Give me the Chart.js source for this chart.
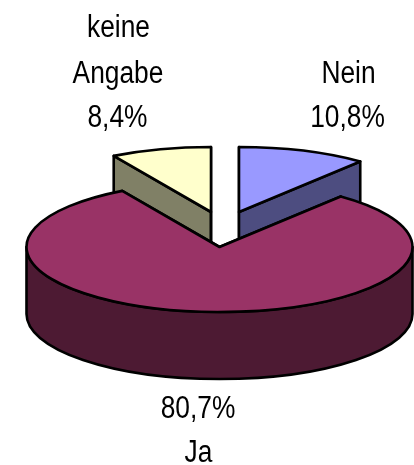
<!DOCTYPE html>
<html><head><meta charset="utf-8">
<style>html,body{margin:0;padding:0;background:#fff}#wrap{width:414px;height:465px}canvas{display:block}</style>
<script src="https://cdn.jsdelivr.net/npm/chart.js@4/dist/chart.umd.min.js"></script>
</head><body><div id="wrap"><canvas id="c" width="414" height="465"></canvas></div>
<script>
const categories = ['Nein', 'Ja', 'keine Angabe'];
const shares = [10.8, 80.7, 8.4];
const shareLabels = ['10,8%', '80,7%', '8,4%'];
const topColors = ['#9999FF', '#993366', '#FFFFCC'];
const sideColors = ['#4D4D80', '#4D1A33', '#808066'];

const TILT = 65 / 193, DEPTH = 67;
const SHIFT = [[19.5, -35], [0, 0], [-8.5, -35]];
const TEXTS = [
  ['Nein', 348.5, 83], [shareLabels[0], 347.5, 127],
  [shareLabels[1], 198, 418], ['Ja', 198.5, 462],
  ['keine', 118.5, 37], ['Angabe', 118, 83], [shareLabels[2], 117.5, 127]
];
const FONT_PX = 31, TEXT_SQUEEZE = 0.85;

const pie3d = {
  id: 'pie3d',
  beforeDatasetsDraw(chart) {
    const ctx = chart.ctx, arcs = chart.getDatasetMeta(0).data;
    ctx.save();
    ctx.lineWidth = 2.6; ctx.lineJoin = 'round'; ctx.strokeStyle = '#000';
    const paint = fill => { ctx.fillStyle = fill; ctx.fill(); ctx.stroke(); };
    [2, 0, 1].forEach(i => {
      const a = arcs[i], r = a.outerRadius, ry = r * TILT;
      const x = a.x + SHIFT[i][0], y = a.y + SHIFT[i][1];
      const px = t => x + r * Math.cos(t), py = t => y + ry * Math.sin(t);
      [a.startAngle, a.endAngle].forEach(t => {
        ctx.beginPath();
        ctx.moveTo(x, y); ctx.lineTo(px(t), py(t));
        ctx.lineTo(px(t), py(t) + DEPTH); ctx.lineTo(x, y + DEPTH); ctx.closePath();
        paint(sideColors[i]);
      });
      const s = Math.max(a.startAngle, 0), e = Math.min(a.endAngle, Math.PI);
      if (e > s) {
        ctx.beginPath();
        ctx.ellipse(x, y, r, ry, 0, s, e);
        ctx.lineTo(px(e), py(e) + DEPTH);
        ctx.ellipse(x, y + DEPTH, r, ry, 0, e, s, true);
        ctx.closePath();
        paint(sideColors[i]);
      }
      ctx.beginPath();
      ctx.moveTo(x, y);
      ctx.ellipse(x, y, r, ry, 0, a.startAngle, a.endAngle);
      ctx.closePath();
      paint(topColors[i]);
    });
    ctx.fillStyle = '#000';
    ctx.font = FONT_PX + 'px "Liberation Sans", Arial, sans-serif';
    ctx.textAlign = 'center'; ctx.textBaseline = 'alphabetic';
    TEXTS.forEach(([s, tx, ty]) => {
      ctx.save();
      ctx.translate(tx, ty);
      ctx.scale(TEXT_SQUEEZE, 1);
      ctx.fillText(s, 0, 0);
      ctx.restore();
    });
    ctx.restore();
    return false;
  },
  beforeDatasetDraw() { return false; }
};

new Chart(document.getElementById('c'), {
  type: 'pie',
  data: { labels: categories, datasets: [{ data: shares, backgroundColor: topColors, borderWidth: 0 }] },
  options: {
    responsive: false, animation: false,
    layout: { padding: { left: 26.5, right: 1.5, top: 54, bottom: 25 } },
    plugins: { legend: { display: false }, tooltip: { enabled: false } }
  },
  plugins: [pie3d]
});
</script></body></html>
